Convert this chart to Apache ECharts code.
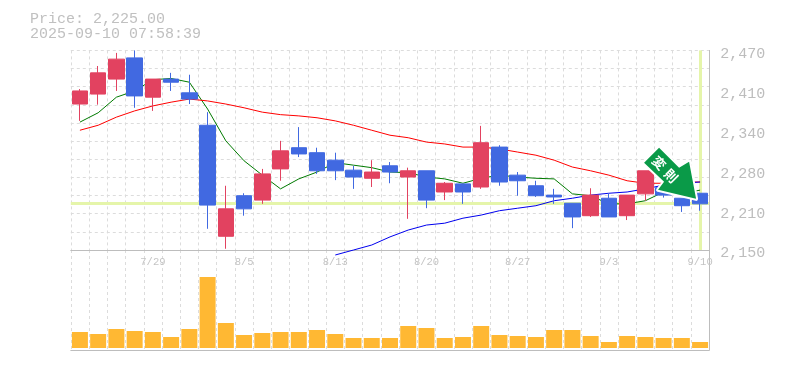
<!DOCTYPE html>
<html><head><meta charset="utf-8">
<style>html,body{margin:0;padding:0;background:#fff}#c{width:785px;height:370px}</style>
<script src="https://cdn.jsdelivr.net/npm/echarts@6/dist/echarts.min.js"></script>
</head><body><div id="c"></div>
<script>
const dates = ['7/23','7/24','7/25','7/28','7/29','7/30','7/31','8/1','8/4','8/5','8/6','8/7','8/8','8/12','8/13','8/14','8/15','8/18','8/19','8/20','8/21','8/22','8/25','8/26','8/27','8/28','8/29','9/1','9/2','9/3','9/4','9/5','9/8','9/9','9/10'];
// open, close, low, high
const candles = [
[2384,2405,2357,2408],[2400,2434,2383,2445],[2424,2456,2405,2466],[2458,2397,2378,2470],[2395,2424,2373,2424],
[2424,2419,2405,2434],[2402,2392,2384,2431],[2350,2222,2184,2371],[2172,2216,2152,2253],[2237,2216,2205,2241],
[2230,2272,2224,2280],[2280,2309,2261,2325],[2314,2304,2299,2347],[2306,2277,2272,2314],[2294,2277,2262,2306],
[2278,2267,2248,2285],[2265,2275,2251,2294],[2285,2275,2257,2291],[2267,2277,2200,2282],[2277,2230,2217,2277],
[2243,2257,2230,2259],[2256,2243,2224,2256],[2251,2322,2248,2349],[2315,2259,2253,2318],[2270,2261,2237,2275],
[2253,2237,2235,2261],[2238,2235,2224,2248],[2225,2203,2185,2225],[2205,2238,2203,2249],[2233,2203,2203,2241],
[2205,2238,2198,2238],[2240,2277,2229,2277],[2250,2238,2234,2254],[2233,2221,2211,2233],[2241,2224,2213,2241]];
const maShort = [2355,2370,2395,2405,2423,2425,2419,2376,2325,2293,2270,2248,2264,2275,2290,2286,2282,2275,2274,2267,2264,2257,2265,2270,2267,2265,2264,2240,2237,2224,2224,2229,2243,2240,2246];
const maMid = [2342,2350,2363,2373,2381,2387,2392,2389,2384,2378,2371,2367,2365,2362,2357,2350,2342,2334,2330,2323,2320,2315,2315,2312,2307,2302,2294,2283,2277,2270,2261,2257,2257,2259,2259];
const maLong = [null,null,null,null,null,null,null,null,null,null,null,null,null,null,2142,2150,2158,2171,2182,2190,2193,2201,2206,2213,2217,2221,2229,2233,2238,2241,2243,2248,2254,2257,2259];
const volume = [16,14,19,17,16,11,19,71,25,13,15,16,16,18,14,10,10,10,22,20,10,11,22,13,12,11,18,18,12,6,12,11,10,10,6];
const priceTicks = [2150,2214,2278,2342,2406,2470];
const gridPrices = [2150,2179.1,2208.2,2237.3,2266.4,2295.5,2324.5,2353.6,2382.7,2411.8,2440.9,2470];
const currentPrice = 2225;
const titleLines = ['Price: 2,225.00','2025-09-10 07:58:39'];

const GREY='#bdbdbd', DASH='#dcdcdc', MONO='Liberation Mono';
const dashed={show:true,interval:0,lineStyle:{color:DASH,width:1,type:[3,3]}};
const chart=echarts.init(document.getElementById('c'),null,{renderer:'canvas'});
const lineS=(name,data,color)=>({name,type:'line',data,xAxisIndex:0,yAxisIndex:0,symbol:'none',smooth:false,clip:false,z:3,
  lineStyle:{color,width:1},connectNulls:false,silent:true});
chart.setOption({
  animation:false,backgroundColor:'#fff',
  grid:[{left:70.8,width:638.4,top:50.4,height:199.6},{left:70.8,width:638.4,top:250,height:100}],
  xAxis:[
    {type:'category',gridIndex:0,data:dates,boundaryGap:true,
     axisLine:{show:true,onZero:false,lineStyle:{color:GREY,width:1}},axisTick:{show:false},
     axisLabel:{interval:(i)=>i%5===4,color:'#c4c4c4',fontFamily:MONO,fontSize:10.5,margin:7,hideOverlap:false},
     splitLine:dashed},
    {type:'category',gridIndex:1,data:dates,boundaryGap:true,
     axisLine:{show:true,onZero:false,lineStyle:{color:GREY,width:1}},axisTick:{show:false},axisLabel:{show:false},
     splitLine:dashed}],
  yAxis:[
    {type:'value',gridIndex:0,position:'right',min:2150,max:2470,scale:true,
     axisLine:{show:true,lineStyle:{color:GREY,width:1}},
     axisTick:{show:false,customValues:gridPrices},
     axisLabel:{customValues:priceTicks,color:GREY,fontFamily:MONO,fontSize:15,margin:11,verticalAlign:'top',lineHeight:7,
       formatter:(v)=>(Math.round(v/10)*10).toLocaleString('en-US')},
     splitLine:{show:true,lineStyle:{color:DASH,width:1,type:[3,3]}}},
    {type:'value',gridIndex:1,position:'right',min:-2,max:98,
     axisLine:{show:true,lineStyle:{color:GREY,width:1}},axisTick:{show:false},axisLabel:{show:false},splitLine:{show:false}}],
  series:[
    {type:'line',data:[],xAxisIndex:0,yAxisIndex:0,z:1,silent:true,
     markLine:{z:1,silent:true,symbol:'none',animation:false,label:{show:false},
       lineStyle:{color:'#e5f5aa',width:3,type:'solid'},
       data:[{yAxis:currentPrice},{xAxis:dates[dates.length-1]}]}},
    lineS('short',maShort,'#007a00'),
    lineS('mid',maMid,'#ff0000'),
    lineS('long',maLong,'#0000ee'),
    {type:'candlestick',data:candles,xAxisIndex:0,yAxisIndex:0,barWidth:16,z:4,silent:true,clip:false,
     itemStyle:{color:'#e24260',borderColor:'#e24260',color0:'#4169e1',borderColor0:'#4169e1',borderColorDoji:'#4169e1',borderWidth:1}},
    {type:'bar',data:volume,xAxisIndex:1,yAxisIndex:1,barWidth:16,silent:true,itemStyle:{color:'#ffb833'}}
  ]
});
// Arrow annotation anchored to the last bars through the chart's own scale
const tip=chart.convertToPixel({xAxisIndex:0,yAxisIndex:0},[dates.length-1,2232]);
const ax=tip[0]-4, ay=tip[1];
const offsets=[[-37,-51],[-52,-36],[-32,-17],[-38,-9],[0,0],[-7,-37],[-17,-31]];
chart.setOption({graphic:{elements:titleLines.map((t,i)=>({type:'text',id:'t'+i,x:30,y:11.5+i*15,z:30,silent:true,
    style:{text:t,fill:'#c0c0c0',fontFamily:MONO,fontSize:15}})).concat([
  {type:'polygon',id:'arrow',z:20,silent:true,shape:{points:offsets.map(o=>[ax+o[0],ay+o[1]])},
   style:{fill:'#0a9a48',stroke:'#fff',lineWidth:4,lineJoin:'round',strokeFirst:true}},
  {type:'text',id:'a1',z:21,silent:true,x:ax-37,y:ay-36,rotation:-Math.PI/4,
   style:{text:'変',fill:'#fff',fontFamily:'Noto Sans CJK JP',fontWeight:'bold',fontSize:13,align:'center',verticalAlign:'middle'}},
  {type:'text',id:'a2',z:21,silent:true,x:ax-25,y:ay-23,rotation:-Math.PI/4,
   style:{text:'則',fill:'#fff',fontFamily:'Noto Sans CJK JP',fontWeight:'bold',fontSize:13,align:'center',verticalAlign:'middle'}}
])}});
</script></body></html>
